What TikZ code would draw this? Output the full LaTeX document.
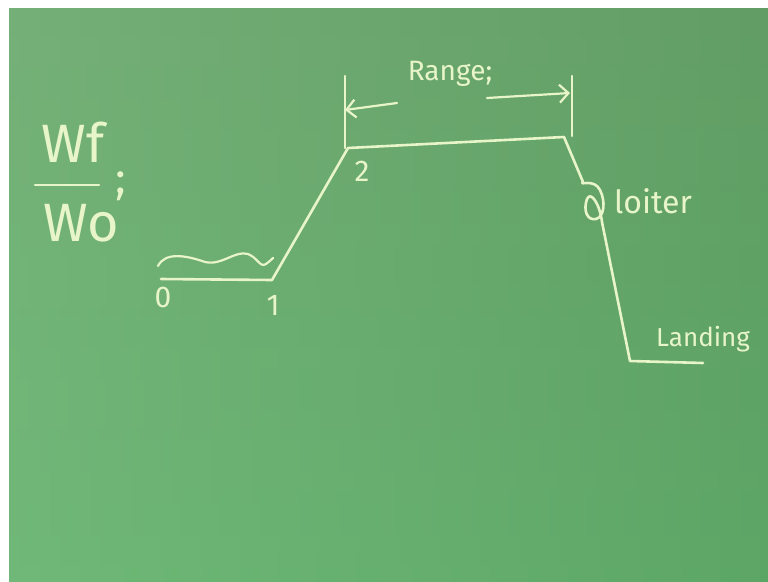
\documentclass[tikz,border=0pt]{standalone}
\usepackage{fontspec}
\setmainfont{Fira Sans}
\usetikzlibrary{arrows.meta}
\definecolor{chalk}{RGB}{232,245,200}
\definecolor{boardTL}{RGB}{127,178,127}
\definecolor{boardTR}{RGB}{88,142,90}
\definecolor{boardBL}{RGB}{118,198,128}
\definecolor{boardBR}{RGB}{78,158,90}
\tikzset{
  chalkline/.style={draw=chalk, line width=2.6pt, line cap=round, line join=round},
  chalktext/.style={text=chalk, inner sep=0pt},
  bigtxt/.style={chalktext, font=\fontsize{54}{58}\selectfont},
  midtxt/.style={chalktext, font=\fontsize{28}{32}\selectfont},
  numtxt/.style={chalktext, font=\fontsize{30}{34}\selectfont},
}
\begin{document}
\begin{tikzpicture}[x=1pt,y=-1pt]
\useasboundingbox (0,0) rectangle (768,581);
% board
\fill[white] (0,0) rectangle (768,581);
\shade[left color=boardTL!50!boardBL, right color=boardTR!50!boardBR] (9,8) rectangle (768,581);
\shade[top color=boardTL!60!boardTR, bottom color=boardBL!60!boardBR, opacity=0.5] (9,8) rectangle (768,581);

% W_f / W_o
\node[bigtxt] (wf) at (73,142) {Wf};
\coordinate (barL) at (35,185);
\coordinate (barR) at (99,185);
\draw[chalkline] (barL) -- (barR);
\node[bigtxt] (wo) at (81,223) {Wo};
\node[chalktext, font=\fontsize{44}{48}\selectfont] (semi1) at (121,186) {;};

% flight profile points
\coordinate (p0) at (161,279);
\coordinate (p1) at (272,280);
\coordinate (p2) at (348,148);
\coordinate (p3) at (564,137);
\coordinate (lt) at (583,182);
\coordinate (lb) at (602,222);
\coordinate (p4) at (630,361);
\coordinate (p5) at (703,363);

% ground run wiggle
\coordinate (w0) at (158,266);
\coordinate (w1) at (273,258);
\draw[chalkline, line width=2.2pt] (w0) .. controls (165,252) and (185,255) .. (205,262)
  .. controls (222,266) and (235,250) .. (248,254)
  .. controls (258,258) and (260,268) .. (266,264)
  .. controls (269,262) and (271,260) .. (w1);

\draw[chalkline] (p0) -- (p1) -- (p2) -- (p3) -- (lt);
% loiter loop
\draw[chalkline] (lt) .. controls (579,186) and (594,178) .. (600,190)
  .. controls (606,202) and (604,217) .. (596,219)
  .. controls (587,221) and (583,210) .. (587,199)
  .. controls (591,190) and (600,205) .. (lb);
\draw[chalkline] (lb) -- (p4) -- (p5);

% labels on profile
\node[numtxt] (n0) at (163,297) {0};
\node[numtxt] (n1) at (273,305) {1};
\node[numtxt] (n2) at (362,171) {2};
\node[midtxt, font=\fontsize{32}{36}\selectfont, anchor=west] (loiter) at (614,201) {loiter};
\node[midtxt, font=\fontsize{26}{30}\selectfont, anchor=west] (landing) at (656,339) {Landing};

% range dimension
\coordinate (tlA) at (345,76);
\coordinate (tlB) at (345,148);
\coordinate (trA) at (572,76);
\coordinate (trB) at (572,136);
\draw[chalkline, line width=2.2pt] (tlA) -- (tlB);
\draw[chalkline, line width=2.2pt] (trA) -- (trB);
\coordinate (alS) at (397,103);
\coordinate (alE) at (345,110);
\coordinate (arS) at (487,98);
\coordinate (arE) at (570,93);
\draw[chalkline, line width=2.2pt, -{Straight Barb[length=9pt,width=18pt]}] (alS) -- (alE);
\draw[chalkline, line width=2.2pt, -{Straight Barb[length=9pt,width=18pt]}] (arS) -- (arE);
\node[midtxt] (range) at (450,74) {Range;};
\end{tikzpicture}
\end{document}
